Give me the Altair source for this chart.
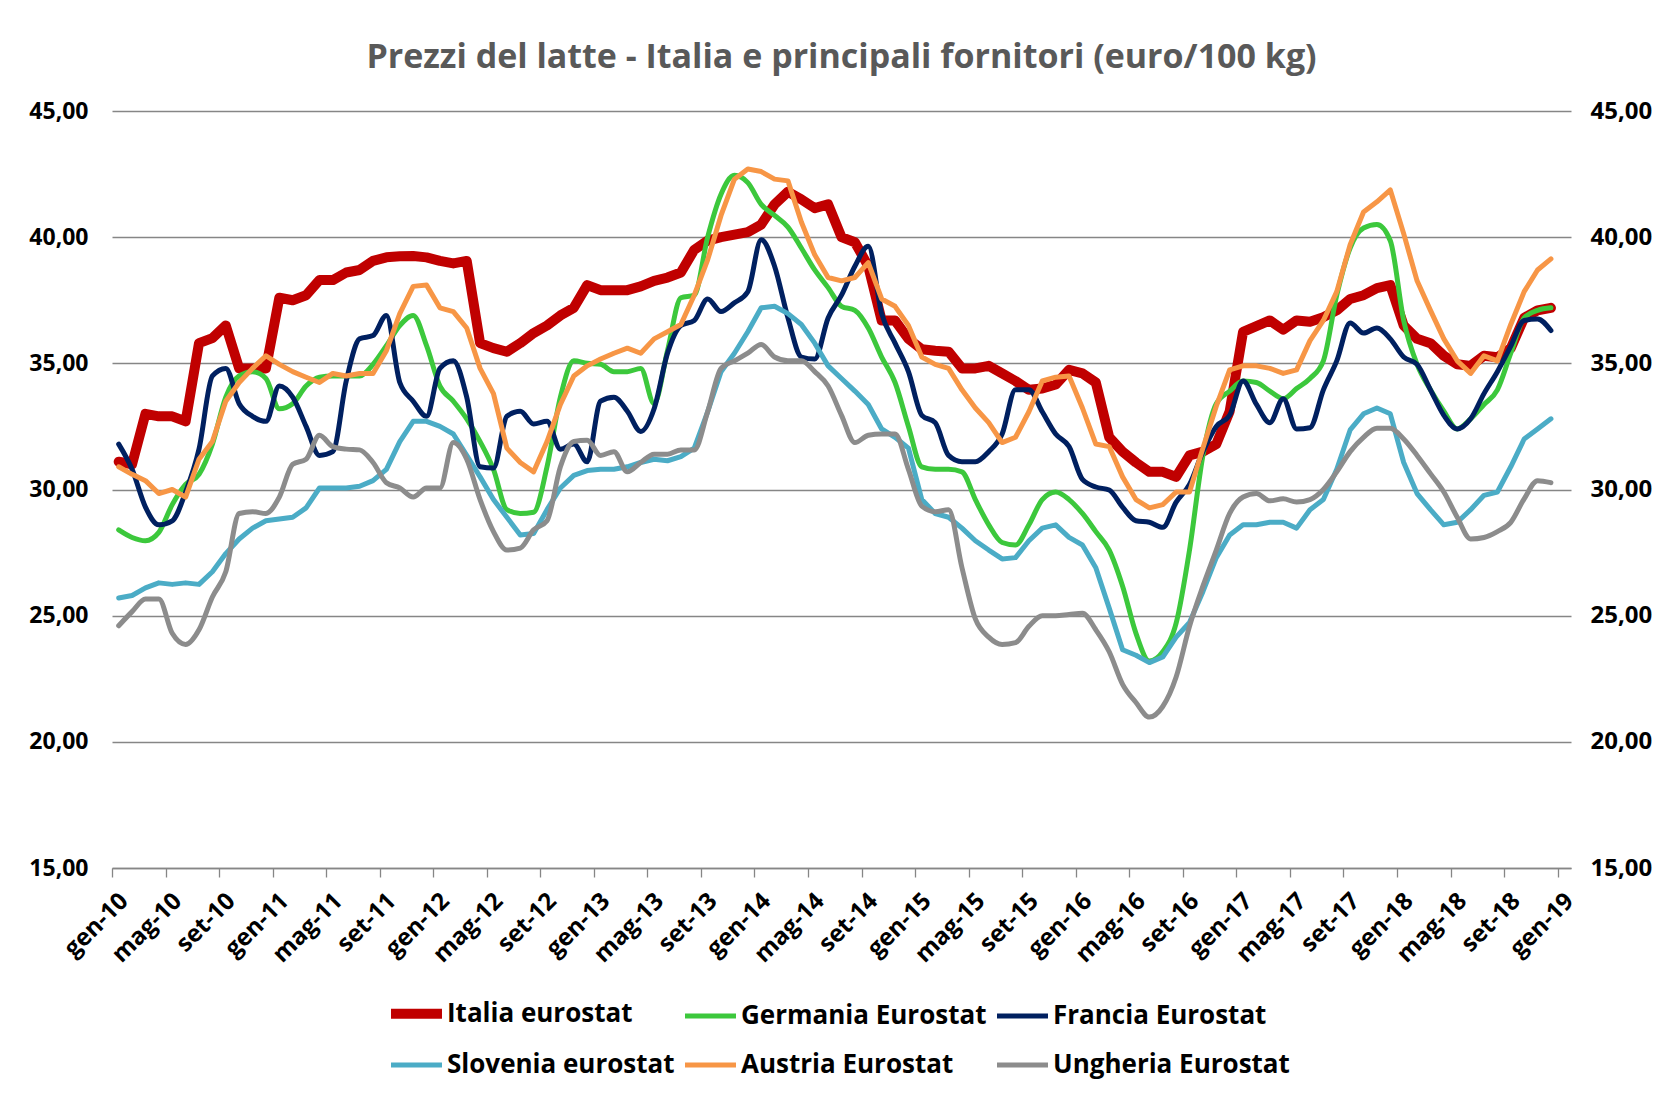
import json
import altair as alt
import pandas as pd

# ---------------- data ----------------
series_names = ["Italia eurostat", "Germania Eurostat", "Francia Eurostat",
                "Slovenia eurostat", "Austria Eurostat", "Ungheria Eurostat"]
series_colors = ["#C00000", "#3CC83C", "#002060", "#4BACC6", "#F79646", "#8C8C8C"]
series_widths = [10, 5, 5, 5, 5, 5]
series_interp = ["linear", "monotone", "monotone", "linear", "linear", "monotone"]

# monthly values gen-10 ... dic-18 (108 months)
italia = [31.1, 31.0, 33.0, 32.9, 32.9, 32.7, 35.8, 36.0, 36.5, 34.8, 34.8, 34.8, 37.6, 37.5, 37.7, 38.3, 38.3, 38.6,
          38.7, 39.06, 39.2, 39.24, 39.25, 39.2, 39.06, 38.96, 39.06, 35.8, 35.6, 35.46, 35.8, 36.2, 36.5, 36.9, 37.2, 38.1,
          37.9, 37.9, 37.9, 38.05, 38.27, 38.4, 38.6, 39.5, 39.86, 40.0, 40.1, 40.2, 40.5, 41.3, 41.8, 41.5, 41.15, 41.3,
          40.0, 39.8, 38.85, 36.7, 36.7, 35.97, 35.56, 35.5, 35.46, 34.8, 34.8, 34.9, 34.6, 34.3, 33.95, 34.0, 34.16, 34.74,
          34.6, 34.24, 32.07, 31.5, 31.07, 30.7, 30.7, 30.5, 31.35, 31.5, 31.8, 33.1, 36.25, 36.47, 36.7, 36.33, 36.7, 36.65,
          36.83, 37.1, 37.55, 37.7, 37.98, 38.1, 36.5, 35.97, 35.8, 35.3, 34.96, 34.9, 35.3, 35.24, 35.6, 36.8, 37.1, 37.2]
germania = [28.4, 28.1, 27.97, 28.3, 29.4, 30.2, 30.6, 31.8, 33.66, 34.5, 34.67, 34.4, 33.2, 33.4, 34.1, 34.45, 34.5, 34.5,
            34.5, 34.96, 35.7, 36.5, 36.9, 35.7, 34.1, 33.5, 32.8, 31.9, 30.8, 29.2, 29.05, 29.1, 30.9, 33.66, 35.1, 35.0,
            34.96, 34.67, 34.67, 34.8, 33.4, 35.5, 37.6, 37.7, 40.0, 41.7, 42.45, 42.16, 41.3, 40.86, 40.4, 39.57, 38.7, 38.0,
            37.26, 37.1, 36.4, 35.25, 34.24, 32.5, 30.9, 30.8, 30.8, 30.7, 29.6, 28.6, 27.9, 27.8, 28.6, 29.6, 29.9, 29.6,
            29.05, 28.33, 27.6, 26.17, 24.3, 23.2, 23.57, 24.7, 27.6, 31.35, 33.4, 33.9, 34.3, 34.24, 33.9, 33.6, 34.0, 34.4,
            35.1, 37.7, 39.57, 40.36, 40.5, 39.86, 36.7, 34.96, 33.95, 33.1, 32.4, 32.8, 33.37, 33.95, 35.4, 36.8, 37.1, 37.2]
francia = [31.8, 30.8, 29.3, 28.6, 28.76, 29.9, 31.6, 34.5, 34.8, 33.4, 32.9, 32.7, 34.1, 33.66, 32.5, 31.35, 31.5, 34.3,
           35.97, 36.1, 36.9, 34.24, 33.5, 32.9, 34.8, 35.1, 33.66, 30.9, 30.85, 32.9, 33.1, 32.6, 32.7, 31.6, 31.8, 31.1,
           33.5, 33.66, 33.1, 32.3, 33.2, 35.4, 36.5, 36.7, 37.55, 37.05, 37.4, 37.84, 39.9, 38.85, 36.8, 35.25, 35.17, 36.8,
           37.7, 38.85, 39.64, 36.97, 35.8, 34.67, 32.94, 32.65, 31.35, 31.1, 31.1, 31.5, 32.2, 33.95, 33.95, 33.08, 32.2, 31.7,
           30.4, 30.1, 29.98, 29.3, 28.76, 28.7, 28.5, 29.5, 30.2, 31.5, 32.5, 32.94, 34.3, 33.37, 32.65, 33.6, 32.4, 32.45,
           33.95, 35.1, 36.6, 36.2, 36.4, 35.97, 35.25, 34.96, 33.95, 32.94, 32.4, 32.8, 33.8, 34.67, 35.68, 36.7, 36.76, 36.3]
slovenia = [25.7, 25.8, 26.1, 26.3, 26.24, 26.3, 26.24, 26.74, 27.46, 28.04, 28.47, 28.76, 28.83, 28.9, 29.27, 30.06, 30.06, 30.06,
            30.13, 30.35, 30.8, 31.9, 32.7, 32.7, 32.5, 32.2, 31.35, 30.5, 29.6, 28.9, 28.2, 28.26, 29.2, 30.06, 30.56, 30.75,
            30.8, 30.8, 30.9, 31.07, 31.2, 31.14, 31.3, 31.64, 33.08, 34.67, 35.4, 36.25, 37.2, 37.26, 36.97, 36.54, 35.8, 34.9,
            34.4, 33.9, 33.37, 32.4, 32.07, 31.64, 29.6, 29.05, 28.9, 28.47, 27.97, 27.6, 27.25, 27.3, 27.97, 28.47, 28.6, 28.1,
            27.8, 26.9, 25.3, 23.65, 23.43, 23.14, 23.36, 24.15, 24.73, 25.95, 27.3, 28.2, 28.6, 28.6, 28.7, 28.7, 28.47, 29.2,
            29.6, 30.8, 32.36, 33.0, 33.23, 33.0, 31.07, 29.84, 29.2, 28.6, 28.7, 29.2, 29.77, 29.9, 30.9, 32.0, 32.4, 32.8]
austria = [30.9, 30.6, 30.35, 29.84, 30.0, 29.7, 31.2, 31.9, 33.5, 34.24, 34.8, 35.3, 34.96, 34.67, 34.45, 34.24, 34.6, 34.5,
           34.6, 34.6, 35.5, 36.97, 38.05, 38.1, 37.2, 37.05, 36.4, 34.8, 33.8, 31.64, 31.07, 30.7, 31.9, 33.37, 34.5, 34.9,
           35.17, 35.4, 35.6, 35.4, 35.97, 36.25, 36.54, 37.7, 39.1, 40.86, 42.3, 42.7, 42.6, 42.3, 42.23, 40.6, 39.3, 38.4,
           38.27, 38.4, 38.99, 37.55, 37.26, 36.5, 35.25, 34.96, 34.8, 33.95, 33.23, 32.65, 31.86, 32.07, 33.08, 34.3, 34.45, 34.5,
           33.23, 31.8, 31.7, 30.5, 29.6, 29.27, 29.4, 29.9, 29.9, 31.64, 33.3, 34.74, 34.9, 34.9, 34.8, 34.6, 34.74, 35.9,
           36.7, 37.84, 39.7, 41.0, 41.4, 41.87, 40.14, 38.27, 37.1, 35.97, 35.1, 34.6, 35.3, 35.1, 36.54, 37.84, 38.7, 39.14]
ungheria = [24.6, 25.16, 25.66, 25.66, 24.3, 23.86, 24.44, 25.74, 26.74, 29.05, 29.12, 29.05, 29.7, 31.0, 31.2, 32.15, 31.7, 31.6,
            31.57, 31.07, 30.27, 30.06, 29.7, 30.06, 30.06, 31.86, 31.2, 29.6, 28.33, 27.6, 27.68, 28.4, 28.76, 30.9, 31.9, 31.95,
            31.35, 31.5, 30.7, 31.07, 31.4, 31.4, 31.57, 31.57, 33.08, 34.8, 35.1, 35.4, 35.75, 35.25, 35.1, 35.1, 34.67, 34.1,
            32.94, 31.86, 32.15, 32.2, 32.2, 30.8, 29.34, 29.12, 29.2, 26.9, 24.87, 24.15, 23.86, 23.93, 24.58, 25.0, 25.0, 25.05,
            25.1, 24.44, 23.57, 22.28, 21.56, 20.98, 21.4, 22.57, 24.58, 26.17, 27.6, 29.05, 29.7, 29.84, 29.55, 29.63, 29.5, 29.6,
            30.0, 30.7, 31.5, 32.07, 32.43, 32.43, 32.0, 31.35, 30.63, 29.9, 28.9, 28.04, 28.1, 28.33, 28.7, 29.63, 30.35, 30.27]

tick_labels = ["gen-10", "mag-10", "set-10", "gen-11", "mag-11", "set-11", "gen-12", "mag-12", "set-12",
               "gen-13", "mag-13", "set-13", "gen-14", "mag-14", "set-14", "gen-15", "mag-15", "set-15",
               "gen-16", "mag-16", "set-16", "gen-17", "mag-17", "set-17", "gen-18", "mag-18", "set-18", "gen-19"]
y_ticks = [15, 20, 25, 30, 35, 40, 45]

all_values = [italia, germania, francia, slovenia, austria, ungheria]
rows = []
for name, vals in zip(series_names, all_values):
    for m, v in enumerate(vals):
        rows.append({"mese": m, "serie": name, "valore": v})
df = pd.DataFrame(rows)

# ---------------- styling ----------------
FONT = "Open Sans"
n_cat = 109
tick_vals = list(range(0, n_cat, 4))

xscale = alt.Scale(domain=[0, n_cat], nice=False, zero=False)
yscale = alt.Scale(domain=[15, 45], nice=False, zero=False)

x_axis = alt.Axis(values=tick_vals, labelExpr=f"{json.dumps(tick_labels)}[round(datum.value/4)]",
                  labelAngle=-45, labelAlign="right", labelBaseline="middle", labelFlush=False,
                  labelOverlap=False, labelPadding=20, labelOffset=12, tickSize=9, tickWidth=1.3,
                  tickColor="#868686", domainColor="#868686", domainWidth=1.3, grid=False, title=None,
                  labelFont=FONT, labelFontSize=24, labelFontWeight="bold", labelColor="#000000")

y_label_expr = "replace(format(datum.value, '.2f'), '.', ',')"
y_axis_left = alt.Axis(values=y_ticks, labelExpr=y_label_expr, grid=True, gridColor="#868686",
                       gridWidth=1.3, domain=False, ticks=False, labelPadding=24, title=None,
                       labelOverlap=False, labelFont=FONT, labelFontSize=23, labelFontWeight="bold",
                       labelColor="#000000")
y_axis_right = alt.Axis(values=y_ticks, labelExpr=y_label_expr, grid=False, domain=False, ticks=False,
                        orient="right", labelPadding=19, title=None, labelOverlap=False,
                        labelFont=FONT, labelFontSize=24, labelFontWeight="bold", labelColor="#000000")

legend = alt.Legend(orient="none", legendX=274, legendY=872, direction="horizontal", columns=3,
                    title=None, symbolType="stroke", symbolSize=2600, labelFont=FONT, labelFontSize=26,
                    labelFontWeight="bold", labelColor="#000000", columnPadding=0, rowPadding=3,
                    labelOffset=0, labelLimit=0, padding=0)

color_enc = alt.Color("serie:N", scale=alt.Scale(domain=series_names, range=series_colors), legend=legend)
width_enc = alt.StrokeWidth("serie:N", scale=alt.Scale(type="ordinal", domain=series_names, range=series_widths),
                            legend=legend)

layers = []
for k, name in enumerate(series_names):
    layers.append(
        alt.Chart(df)
        .transform_filter(alt.datum.serie == name)
        .transform_calculate(pos="datum.mese + 0.5")
        .mark_line(interpolate=series_interp[k], strokeCap="round", strokeJoin="round")
        .encode(
            x=alt.X("pos:Q", scale=xscale, axis=x_axis),
            y=alt.Y("valore:Q", scale=yscale, axis=y_axis_left),
            color=color_enc,
            strokeWidth=width_enc,
        )
    )

right_axis = (
    alt.Chart(df)
    .transform_calculate(pos="datum.mese + 0.5")
    .mark_point(opacity=0)
    .encode(x=alt.X("pos:Q", scale=xscale, axis=x_axis),
            y=alt.Y("valore:Q", scale=yscale, axis=y_axis_right))
)

chart = (
    alt.layer(alt.layer(*layers), right_axis)
    .resolve_scale(y="independent")
    .properties(
        width=1459, height=757,
        autosize=alt.AutoSizeParams(type="none"),
        padding={"left": 104, "top": 103, "right": 92, "bottom": 212},
        title=alt.TitleParams("Prezzi del latte - Italia e principali fornitori (euro/100 kg)",
                              font=FONT, fontSize=34, fontWeight="bold", color="#595959",
                              anchor="middle", offset=24),
        background="white",
    )
    .configure_view(stroke=None)
)

chart.save("out.html", embed_options={"renderer": "svg", "actions": False})
